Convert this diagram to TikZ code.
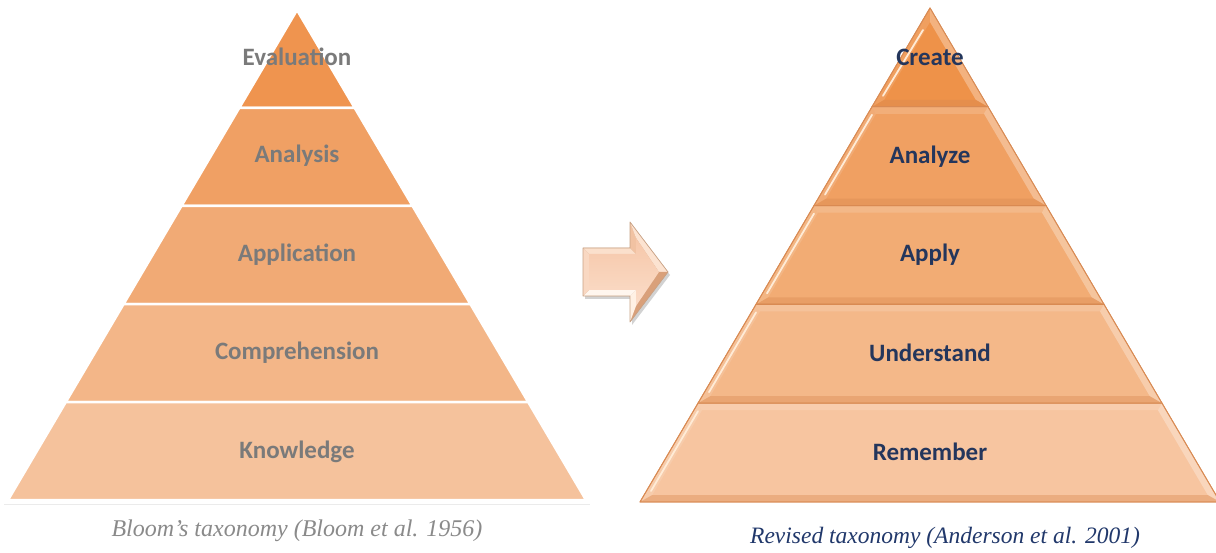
\documentclass[tikz,border=0pt]{standalone}
\usepackage{fontspec}
\setmainfont{Liberation Serif}
\newfontfamily\labfont{Carlito}
\usetikzlibrary{calc,shadows}
\definecolor{lA}{HTML}{EF944F}
\definecolor{lB}{HTML}{F0A064}
\definecolor{lC}{HTML}{F1AA75}
\definecolor{lD}{HTML}{F3B688}
\definecolor{lE}{HTML}{F5C29C}
\definecolor{rA}{HTML}{EE9249}
\definecolor{rB}{HTML}{F0A062}
\definecolor{rC}{HTML}{F2AC74}
\definecolor{rD}{HTML}{F4B889}
\definecolor{rE}{HTML}{F7C5A0}
\definecolor{rEdge}{HTML}{D98A52}
\definecolor{hiLite}{HTML}{FFEBD6}
\definecolor{grayText}{HTML}{7A7A7A}
\definecolor{navyText}{HTML}{24365C}
\definecolor{capGray}{HTML}{8A8A8A}
\definecolor{capNavy}{HTML}{21386B}
\definecolor{arrowEdge}{HTML}{C9A285}
\definecolor{afTop}{HTML}{FBE0CC}
\definecolor{afHeadV}{HTML}{F1C2A2}
\definecolor{afHeadUp}{HTML}{FCE3D1}
\definecolor{afHeadLow}{HTML}{D9A07A}
\definecolor{afHeadVB}{HTML}{FFF1E4}
\definecolor{afBottom}{HTML}{FFF6EE}
\definecolor{afLeft}{HTML}{F9D8C2}
\definecolor{afFaceT}{HTML}{F6C7A9}
\definecolor{afFaceB}{HTML}{FBDDC9}
\tikzset{
  leftlabel/.style={font=\labfont\bfseries\fontsize{25}{29}\selectfont, text=grayText},
  rightlabel/.style={font=\labfont\bfseries\fontsize{25}{29}\selectfont, text=navyText},
  caption/.style={font=\itshape\fontsize{#1}{28}\selectfont},
  lband/.style={fill=#1, draw=white, line width=2.5pt, line join=round},
  rband/.style={fill=#1, draw=rEdge, line width=0.9pt, line join=round},
  hilite/.style={draw=hiLite, line width=1.8pt, line cap=round},
}
\begin{document}
\begin{tikzpicture}[x=1pt,y=-1pt]
\fill[white] (0,0) rectangle (1216,553);
\useasboundingbox (0,0) rectangle (1216,553);
% ---------- left pyramid ----------
\coordinate (LA) at (297,10);
\coordinate (LL) at (8,500);
\coordinate (LR) at (586,500);
\foreach \a/\b/\c in {0/0.2/lA, 0.2/0.4/lB, 0.4/0.6/lC, 0.6/0.8/lD, 0.8/1/lE}{
  \path[lband=\c] ($(LA)!\a!(LL)$) -- ($(LA)!\b!(LL)$) -- ($(LA)!\b!(LR)$) -- ($(LA)!\a!(LR)$) -- cycle;
}
\draw[black!8, line width=1pt] (4,504) -- (590,504);
\node[leftlabel] (eval) at (297,57) {Evaluation};
\node[leftlabel] (anal) at (297,156) {Analysis};
\node[leftlabel] (appl) at (297,255) {Application};
\node[leftlabel] (comp) at (297,353) {Comprehension};
\node[leftlabel] (know) at (297,452) {Knowledge};
\node[caption=24, text=capGray] (capL) at (297,531) {Bloom’s taxonomy (Bloom et al. 1956)};
% ---------- arrow ----------
\coordinate (O1) at (583,248); \coordinate (O2) at (630,248); \coordinate (O3) at (630,222);
\coordinate (O4) at (668,272); \coordinate (O5) at (630,322); \coordinate (O6) at (630,296);
\coordinate (O7) at (583,296);
\coordinate (I1) at (589,254); \coordinate (I2) at (636,254); \coordinate (I3) at (636,238);
\coordinate (I4) at (659,272); \coordinate (I5) at (636,306); \coordinate (I6) at (636,290);
\coordinate (I7) at (589,290);
\path[fill=arrowEdge, drop shadow={opacity=0.35, shadow xshift=2pt, shadow yshift=-3pt}]
  (O1) -- (O2) -- (O3) -- (O4) -- (O5) -- (O6) -- (O7) -- cycle;
\fill[afTop] (O1) -- (O2) -- (I2) -- (I1) -- cycle;
\fill[afHeadV] (O2) -- (O3) -- (I3) -- (I2) -- cycle;
\fill[afHeadUp] (O3) -- (O4) -- (I4) -- (I3) -- cycle;
\fill[afHeadLow] (O4) -- (O5) -- (I5) -- (I4) -- cycle;
\fill[afHeadVB] (O5) -- (O6) -- (I6) -- (I5) -- cycle;
\fill[afBottom] (O6) -- (O7) -- (I7) -- (I6) -- cycle;
\fill[afLeft] (O7) -- (O1) -- (I1) -- (I7) -- cycle;
\shade[top color=afFaceT, bottom color=afFaceB] (I1) -- (I2) -- (I3) -- (I4) -- (I5) -- (I6) -- (I7) -- cycle;
\draw[arrowEdge, line width=0.7pt, line join=round] (O1) -- (O2) -- (O3) -- (O4) -- (O5) -- (O6) -- (O7) -- cycle;
% ---------- right pyramid ----------
\coordinate (RA) at (930,8);
\coordinate (RL) at (640,502);
\coordinate (RR) at (1220,502);
\foreach \a/\b/\c/\tx/\ty/\hx/\hy in {0/0.2/rA/0/14/-7/22, 0.2/0.4/rB/4/7/0/8, 0.4/0.6/rC/4/7/0/8, 0.6/0.8/rD/4/7/0/8, 0.8/1/rE/4/7/0/8}{
  \coordinate (TL) at ($(RA)!\a!(RL)$);
  \coordinate (BL) at ($(RA)!\b!(RL)$);
  \coordinate (BR) at ($(RA)!\b!(RR)$);
  \coordinate (TR) at ($(RA)!\a!(RR)$);
  \coordinate (TLi) at ($(TL)+(\tx,\ty)$);
  \coordinate (TRi) at ($(TR)+(-\tx,\ty)$);
  \coordinate (BLi) at ($(BL)+(12.2,-7)$);
  \coordinate (BRi) at ($(BR)+(-12.2,-7)$);
  \path[rband=\c] (TL) -- (BL) -- (BR) -- (TR) -- cycle;
  \fill[white, opacity=0.30] (TR) -- (BR) -- (BRi) -- (TRi) -- cycle;
  \fill[white, opacity=0.15] (TL) -- (TR) -- (TRi) -- (TLi) -- cycle;
  \fill[white, opacity=0.12] (TL) -- (BL) -- (BLi) -- (TLi) -- cycle;
  \fill[rEdge, opacity=0.40] (BL) -- (BR) -- (BRi) -- (BLi) -- cycle;
  \draw[hilite] ($(BL)+(11,-11)$) -- ($(TL)+(\hx,\hy)$);
  \draw[rEdge, line width=0.9pt, line join=round] (TL) -- (BL) -- (BR) -- (TR) -- cycle;
}
\node[rightlabel] (crea) at (930,57) {Create};
\node[rightlabel] (anz) at (930,157) {Analyze};
\node[rightlabel] (apy) at (930,255) {Apply};
\node[rightlabel] (und) at (930,353) {Understand};
\node[rightlabel] (rem) at (930,452) {Remember};
\node[caption=23.5, text=capNavy] (capR) at (945,538) {Revised taxonomy (Anderson et al. 2001)};
\end{tikzpicture}
\end{document}
